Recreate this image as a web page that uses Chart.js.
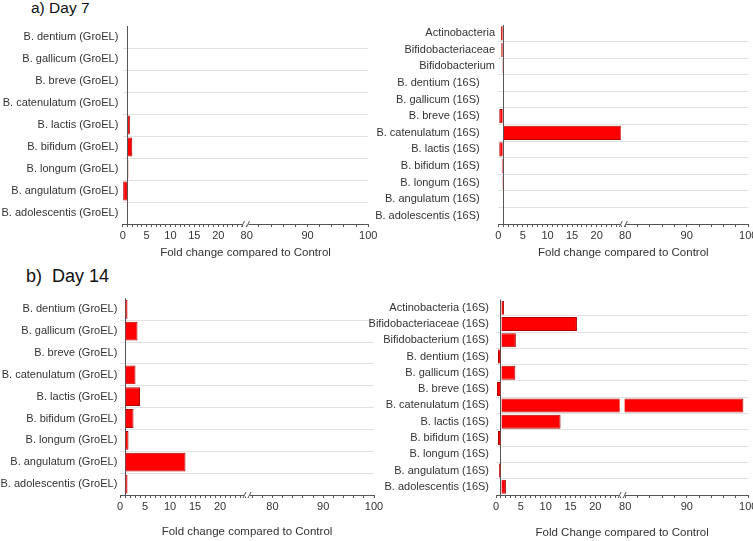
<!DOCTYPE html>
<html>
<head>
<meta charset="utf-8">
<script src="https://cdn.jsdelivr.net/npm/chart.js@4.4.0/dist/chart.umd.min.js"></script>
<style>
  html, body { margin: 0; padding: 0; overflow: hidden; background: #fff; }
  #page { position: relative; width: 753px; height: 541px; overflow: hidden; font-family: "Liberation Sans", Arial, sans-serif; }
  canvas { position: absolute; }
  .head { position: absolute; color: #111; white-space: pre; }
</style>
</head>
<body>
<div id="page">
  <div class="head" style="left:31px; top:0px; font-size:15.5px; line-height:15px;">a) Day 7</div>
  <div class="head" style="left:26px; top:267px; font-size:18px; line-height:18px;">b)  Day 14</div>
  <canvas id="a1"></canvas>
  <canvas id="a2"></canvas>
  <canvas id="b1"></canvas>
  <canvas id="b2"></canvas>
</div>
<script>
// datos (fold change, base = 1)
const groelLabels = ['B. dentium (GroEL)', 'B. gallicum (GroEL)', 'B. breve (GroEL)', 'B. catenulatum (GroEL)',
  'B. lactis (GroEL)', 'B. bifidum (GroEL)', 'B. longum (GroEL)', 'B. angulatum (GroEL)', 'B. adolescentis (GroEL)'];
const day7Groel = [1, 1, 1, 1, 1.5, 2.0, 1.2, 0.1, 1];
const day14Groel = [1.5, 3.5, 1, 3.1, 4.0, 2.7, 1.7, 13.1, 1.5];

const day7_16sLabels = ['Actinobacteria', 'Bifidobacteriaceae', 'Bifidobacterium', 'B. dentium (16S)', 'B. gallicum (16S)',
  'B. breve (16S)', 'B. catenulatum (16S)', 'B. lactis (16S)', 'B. bifidum (16S)', 'B. longum (16S)',
  'B. angulatum (16S)', 'B. adolescentis (16S)'];
const day7_16s = [0.5, 0.6, 0.8, 0.9, 1, 0.2, 25, 0.2, 0.7, 0.8, 1, 1];

const day14_16sLabels = ['Actinobacteria (16S)', 'Bifidobacteriaceae (16S)', 'Bifidobacterium (16S)', 'B. dentium (16S)',
  'B. gallicum (16S)', 'B. breve (16S)', 'B. catenulatum (16S)', 'B. lactis (16S)', 'B. bifidum (16S)',
  'B. longum (16S)', 'B. angulatum (16S)', 'B. adolescentis (16S)'];
const day14_16s = [1.6, 16.3, 4.0, 0.4, 3.9, 0.2, 99.2, 13.0, 0.4, 0.9, 0.6, 2.0];

// etiquetas del eje roto
const lowTicks = [0, 5, 10, 15, 20];
const highTicks = [80, 90, 100];

const textColor = '#333';
const axisColor = '#555';
const gridColor = '#e2e2e2';
const barFill = '#ff0000';
const barEdge = '#b00000';
const xH = 19;

Chart.defaults.font.family = '"Liberation Sans", Arial, sans-serif';
Chart.defaults.font.size = 11;

// recortar cada dataset a su tramo del eje
const segmentClip = {
  id: 'segmentClip',
  beforeDatasetDraw(chart, args) {
    const s = args.meta.xScale, a = chart.chartArea, ctx = chart.ctx;
    const left = s.id === 'x' ? s.left - 10 : s.left + 2.5;
    const right = s.id === 'x' ? s.right - 2.5 : s.right + 10;
    ctx.save();
    ctx.beginPath();
    ctx.rect(left, a.top - 1, right - left, a.bottom - a.top + 2);
    ctx.clip();
  },
  afterDatasetDraw(chart) {
    chart.ctx.restore();
  }
};

// marca de corte //
const axisBreak = {
  id: 'axisBreak',
  afterDraw(chart) {
    const ctx = chart.ctx;
    const bx = chart.scales.x.right, by = chart.scales.x.top;
    ctx.save();
    ctx.fillStyle = '#fff';
    ctx.fillRect(bx - 3, by - 1.5, 6, 3);
    ctx.strokeStyle = axisColor;
    ctx.lineWidth = 1;
    ctx.beginPath();
    ctx.moveTo(bx - 4, by + 3); ctx.lineTo(bx - 1, by - 3);
    ctx.moveTo(bx + 1, by + 3); ctx.lineTo(bx + 4, by - 3);
    ctx.stroke();
    ctx.restore();
  }
};

function makePanel(id, box, area, labels, values, opt) {
  const cv = document.getElementById(id);
  cv.style.left = box.left + 'px';
  cv.style.top = box.top + 'px';
  cv.width = box.width;
  cv.height = box.height;
  const titleH = 11.5 * 1.2 + opt.titlePad;

  const ds = (axis) => ({
    data: values,
    xAxisID: axis,
    yAxisID: 'y',
    base: 1,
    grouped: false,
    backgroundColor: barFill,
    borderColor: barEdge,
    borderWidth: 1,
    barPercentage: 0.86,
    categoryPercentage: 1
  });

  return new Chart(cv, {
    type: 'bar',
    data: { labels: labels, datasets: [ds('x'), ds('x2')] },
    options: {
      indexAxis: 'y',
      responsive: false,
      animation: false,
      events: [],
      layout: {
        padding: {
          left: 0,
          top: area.t - box.top,
          right: box.left + box.width - area.r,
          bottom: box.top + box.height - area.b - xH - titleH
        }
      },
      plugins: {
        legend: { display: false },
        tooltip: { enabled: false },
        title: {
          display: true, position: 'bottom', fullSize: false,
          text: opt.title, color: textColor,
          font: { size: 11.5, weight: 'normal' },
          padding: { top: opt.titlePad, bottom: 0 }
        }
      },
      scales: {
        y: {
          type: 'category', position: 'left', offset: true,
          afterFit: (s) => { s.width = area.l - box.left; },
          border: { display: false },
          grid: { offset: true, drawTicks: false, lineWidth: 1,
            color: (c) => c.index === 0 ? 'rgba(0,0,0,0)' : gridColor },
          ticks: { autoSkip: false, padding: opt.labelPad, color: textColor,
            callback: (v, i) => labels[i] + (i >= opt.plain ? opt.trail : '') }
        },
        x: {
          type: 'linear', position: 'bottom', stack: 'brk', stackWeight: 1, stacked: false,
          min: 0, max: opt.lowMax,
          afterFit: (s) => { s.height = xH; },
          border: { display: true, color: axisColor, width: 1 },
          grid: { drawOnChartArea: true, tickLength: 3, tickColor: axisColor, lineWidth: 1,
            color: (c) => (c.tick && c.tick.value === 1) ? axisColor : 'rgba(0,0,0,0)' },
          ticks: { stepSize: 1, autoSkip: false, includeBounds: false, maxRotation: 0, minRotation: 0,
            padding: 2, color: textColor, callback: (v) => lowTicks.includes(v) ? v : '' }
        },
        x2: {
          type: 'linear', position: 'bottom', stack: 'brk', stackWeight: 1, stacked: false,
          min: opt.highMin, max: 100,
          afterFit: (s) => { s.height = xH; },
          border: { display: true, color: axisColor, width: 1 },
          grid: { drawOnChartArea: false, tickLength: 3, tickColor: axisColor },
          ticks: { stepSize: 2, autoSkip: false, includeBounds: false, maxRotation: 0, minRotation: 0,
            padding: 2, color: textColor, callback: (v) => highTicks.includes(v) ? v : '' }
        }
      }
    },
    plugins: [segmentClip, axisBreak]
  });
}

makePanel('a1', { left: 0, top: 15, width: 390, height: 255 }, { l: 122.7, r: 368.3, t: 25, b: 224 },
  groelLabels, day7Groel,
  { lowMax: 25.7, highMin: 79.8, title: 'Fold change compared to Control', titlePad: 3.4, labelPad: 4.4, plain: 99, trail: '' });

makePanel('a2', { left: 372, top: 15, width: 400, height: 255 }, { l: 498.3, r: 748.3, t: 25, b: 224 },
  day7_16sLabels, day7_16s,
  { lowMax: 25.4, highMin: 79.7, title: 'Fold change compared to Control', titlePad: 2.8, labelPad: 3.3, plain: 3, trail: '     ' });

makePanel('b1', { left: 0, top: 285, width: 392, height: 256 }, { l: 120, r: 374, t: 298.3, b: 495 },
  groelLabels, day14Groel,
  { lowMax: 25.4, highMin: 75, title: 'Fold change compared to Control', titlePad: 10.8, labelPad: 2.7, plain: 99, trail: '' });

makePanel('b2', { left: 362, top: 285, width: 410, height: 256 }, { l: 496, r: 748.3, t: 299.5, b: 495 },
  day14_16sLabels, day14_16s,
  { lowMax: 25.4, highMin: 79.5, title: 'Fold Change compared to Control', titlePad: 12.4, labelPad: 7, plain: 99, trail: '' });
</script>
</body>
</html>
